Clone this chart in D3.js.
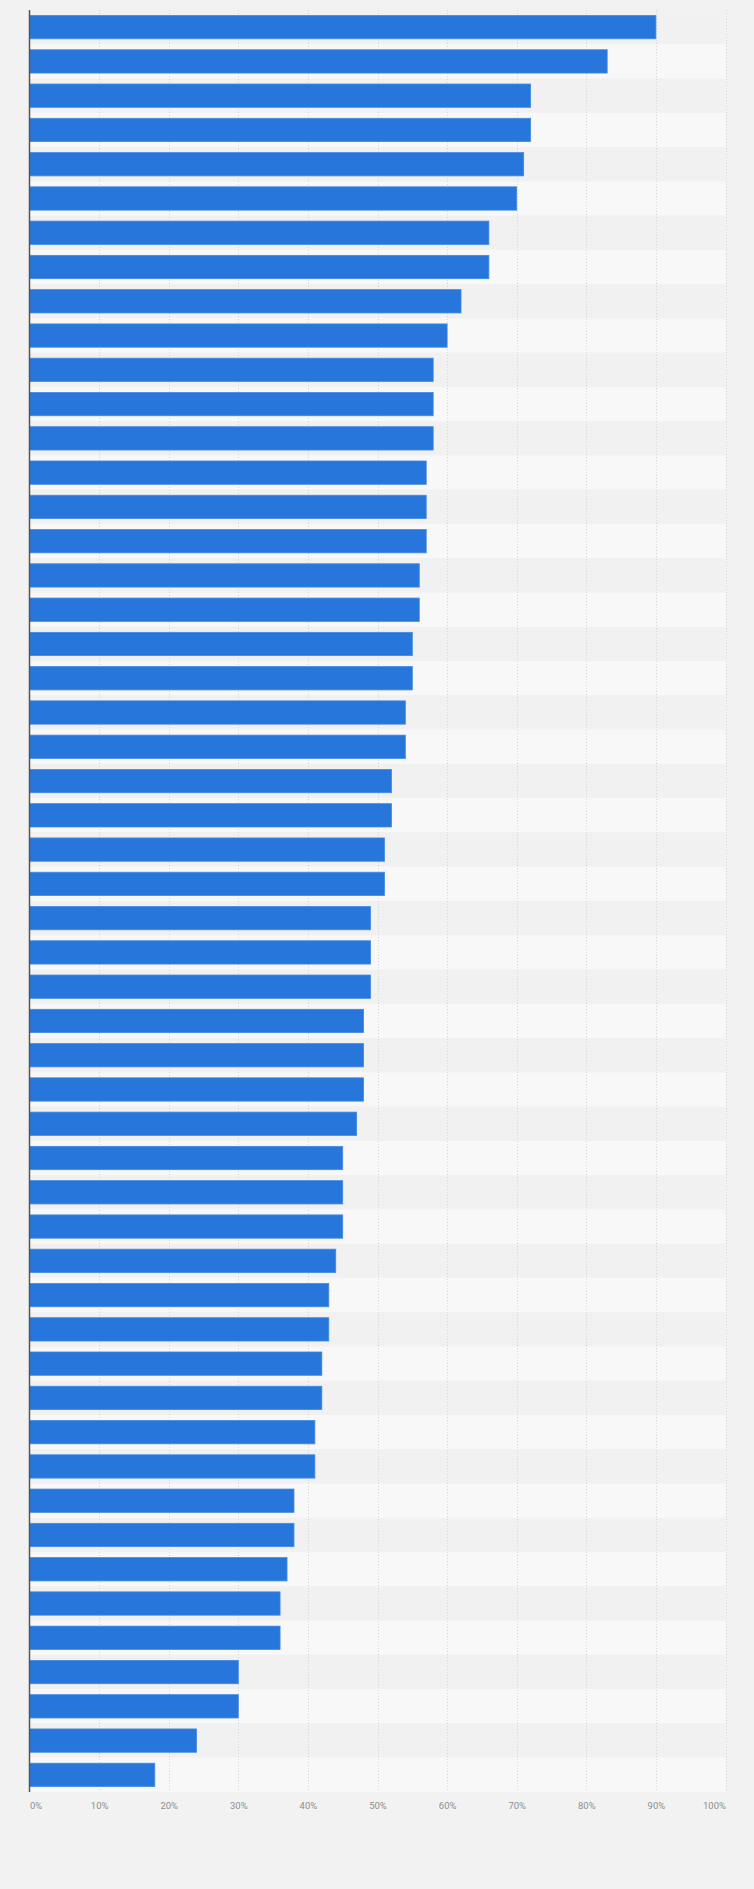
<!DOCTYPE html>
<html>
<head>
<meta charset="utf-8">
<script src="https://cdn.jsdelivr.net/npm/d3@7"></script>
<style>
  html, body { margin: 0; padding: 0; background: #f2f2f2; }
  svg { display: block; }
</style>
</head>
<body>
<svg id="chart" width="754" height="1889"></svg>
<script>
// Share values (%) read top to bottom
const values = [90, 83, 72, 72, 71, 70, 66, 66, 62, 60,
                58, 58, 58, 57, 57, 57, 56, 56, 55, 55,
                54, 54, 52, 52, 51, 51, 49, 49, 49, 48,
                48, 48, 47, 45, 45, 45, 44, 43, 43, 42,
                42, 41, 41, 38, 38, 37, 36, 36, 30, 30,
                24, 18];
const tickValues = [0, 10, 20, 30, 40, 50, 60, 70, 80, 90, 100];
const tickLabels = ["0%", "10%", "20%", "30%", "40%", "50%", "60%", "70%", "80%", "90%", "100%"];

(function () {
const svg = d3.select("#chart");
const plotLeft = 29.5, plotRight = 725.5, plotTop = 10, plotBottom = 1792;

const x = d3.scaleLinear().domain([0, 100]).range([plotLeft, plotRight]);
const y = d3.scaleBand()
  .domain(d3.range(values.length))
  .range([plotTop, plotBottom])
  .paddingInner(0.32)
  .paddingOuter(0.16);

const step = y.step();

// alternating row bands
svg.append("g").selectAll("rect")
  .data(values)
  .join("rect")
  .attr("x", plotLeft)
  .attr("width", plotRight - plotLeft)
  .attr("y", (d, i) => y(i) - step * y.paddingInner() / 2)
  .attr("height", step)
  .attr("fill", (d, i) => i % 2 === 0 ? "#f1f1f1" : "#f8f8f8");

// gridlines
svg.append("g").selectAll("line")
  .data(tickValues.slice(1))
  .join("line")
  .attr("x1", d => Math.round(x(d)) + 0.5)
  .attr("x2", d => Math.round(x(d)) + 0.5)
  .attr("y1", plotTop)
  .attr("y2", plotBottom)
  .attr("stroke", "#d6d6d6")
  .attr("stroke-width", 1)
  .attr("stroke-dasharray", "1,2");

// bars
svg.append("g").selectAll("rect")
  .data(values)
  .join("rect")
  .attr("x", x(0))
  .attr("y", (d, i) => y(i))
  .attr("width", d => x(d) - x(0))
  .attr("height", y.bandwidth())
  .attr("fill", "#2776dc")
  .attr("stroke", "#4189e3")
  .attr("stroke-width", 0.8);

// y axis line
svg.append("line")
  .attr("x1", plotLeft).attr("x2", plotLeft)
  .attr("y1", plotTop).attr("y2", plotBottom)
  .attr("stroke", "#555")
  .attr("stroke-width", 1.5);

// x axis labels
const xAxis = d3.axisBottom(x)
  .tickValues(tickValues)
  .tickFormat((d, i) => tickLabels[i])
  .tickSize(0)
  .tickPadding(0);

const gx = svg.append("g")
  .attr("transform", `translate(0,${plotBottom})`)
  .call(xAxis);
gx.select(".domain").remove();
gx.selectAll("text")
  .attr("y", 17)
  .attr("dy", null)
  .attr("fill", "#8f8f8f")
  .style("font-family", "Roboto, Arial, sans-serif")
  .style("font-size", "9.5px")
  .attr("text-anchor", (d, i) => i === 0 ? "start" : (i === tickValues.length - 1 ? "end" : "middle"));
})();
</script>
</body>
</html>
